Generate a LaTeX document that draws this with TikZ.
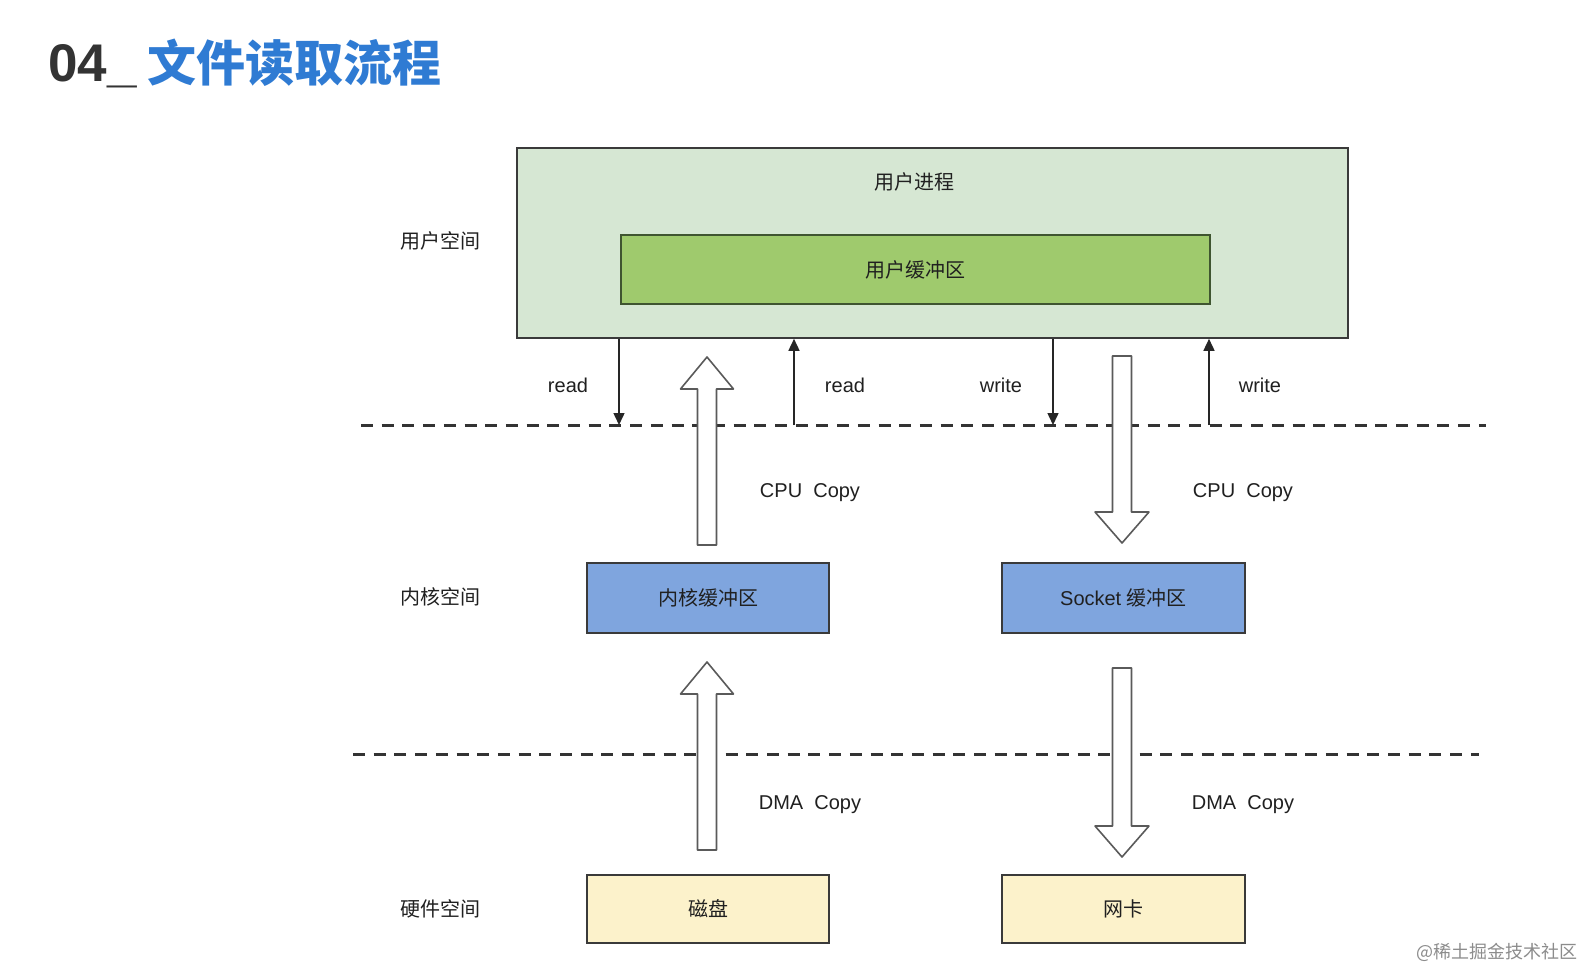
\documentclass[tikz,border=0pt]{standalone}
\usepackage{fontspec}
\setmainfont{Liberation Sans}
\newfontfamily\cjk{Noto Sans CJK SC}
\usetikzlibrary{arrows.meta}
\definecolor{txt}{HTML}{202020}
\definecolor{ttlblue}{HTML}{2F7BD3}
\definecolor{ttlgray}{HTML}{333333}
\definecolor{procfill}{HTML}{D6E7D3}
\definecolor{buffill}{HTML}{9FCA6D}
\definecolor{bufline}{HTML}{3F5530}
\definecolor{kernfill}{HTML}{7FA5DE}
\definecolor{hwfill}{HTML}{FCF2CB}
\definecolor{boxline}{HTML}{3A3A3A}
\definecolor{blkline}{HTML}{5A5A5A}
\newcommand{\mylbl}{\fontsize{20pt}{24pt}\selectfont}
\newcommand{\blkup}[3]{\draw[blk] (#1-9.5,#2) -- (#1-9.5,#3+32) -- (#1-26.5,#3+32) -- (#1,#3) -- (#1+26.5,#3+32) -- (#1+9.5,#3+32) -- (#1+9.5,#2) -- cycle;}
\newcommand{\blkdown}[3]{\draw[blk] (#1-9.5,#2) -- (#1-9.5,#3-31) -- (#1-27,#3-31) -- (#1,#3) -- (#1+27,#3-31) -- (#1+9.5,#3-31) -- (#1+9.5,#2) -- cycle;}
\begin{document}
\begin{tikzpicture}[x=1pt,y=-1pt,
  box/.style={draw=boxline, line width=1.6pt, inner sep=0pt, text=txt, font=\mylbl},
  lbl/.style={inner sep=0pt, text=txt, font=\mylbl},
  tarr/.style={draw=black!85, line width=1.5pt, -{Triangle[length=12pt,width=11pt]}},
  dline/.style={draw=ttlgray, line width=3pt, dash pattern=on 12pt off 8.7pt},
  blk/.style={draw=blkline, fill=white, line width=1.6pt, line join=round}]
\useasboundingbox (0,0) rectangle (1583,968);
\fill[white] (0,0) rectangle (1583,968);

% title
\node[anchor=base west, inner sep=0pt, text=ttlgray, font=\fontsize{53pt}{60pt}\selectfont\bfseries] (t1) at (48,82) {04\_};
\node[anchor=base west, inner sep=0pt, text=ttlblue, font=\fontsize{49pt}{56pt}\selectfont\cjk\bfseries] (t2) at ([xshift=10pt]t1.base east) {文件读取流程};

% dashed separators
\coordinate (dl1a) at (361,425);
\coordinate (dl1b) at (1486,425);
\coordinate (dl2a) at (353,754);
\coordinate (dl2b) at (1479,754);
\draw[dline] (dl1a) -- (dl1b);
\draw[dline] (dl2a) -- (dl2b);

% space labels
\node[lbl] (us) at (440,241) {\cjk 用户空间};
\node[lbl] (ks) at (440,597) {\cjk 内核空间};
\node[lbl] (hs) at (440,909) {\cjk 硬件空间};

% boxes
\node[box, fill=procfill, minimum width=831pt, minimum height=190pt] (proc) at (932.5,243) {};
\node[lbl] (proct) at (914,182) {\cjk 用户进程};
\node[box, draw=bufline, fill=buffill, minimum width=589pt, minimum height=69pt] (ubuf) at (915.5,269.5) {\cjk 用户缓冲区};
\node[box, fill=kernfill, minimum width=242pt, minimum height=70pt] (kbuf) at (708,598) {\cjk 内核缓冲区};
\node[box, fill=kernfill, minimum width=243pt, minimum height=70pt] (sbuf) at (1123.5,598) {Socket {\cjk 缓冲区}};
\node[box, fill=hwfill, minimum width=242pt, minimum height=68pt] (disk) at (708,909) {\cjk 磁盘};
\node[box, fill=hwfill, minimum width=243pt, minimum height=68pt] (nic) at (1123.5,909) {\cjk 网卡};

% thin read/write arrows
\coordinate (r1) at (619,425);
\coordinate (r2) at (794,425);
\coordinate (w1) at (1053,425);
\coordinate (w2) at (1209,425);
\draw[tarr] (proc.south -| r1) -- (r1);
\draw[tarr] (r2) -- (proc.south -| r2);
\draw[tarr] (proc.south -| w1) -- (w1);
\draw[tarr] (w2) -- (proc.south -| w2);
\node[lbl] (lr1) at (568,385) {read};
\node[lbl] (lr2) at (845,385) {read};
\node[lbl] (lw1) at (1001,385) {write};
\node[lbl] (lw2) at (1260,385) {write};

% block arrows
\blkup{707}{545}{357}
\blkdown{1122}{356}{543}
\blkup{707}{850}{662}
\blkdown{1122}{668}{857}

\node[lbl] (c1) at (810,493) {CPU\ \ Copy};
\node[lbl] (c2) at (1243,493) {CPU\ \ Copy};
\node[lbl] (d1) at (810,805) {DMA\ \ Copy};
\node[lbl] (d2) at (1243,805) {DMA\ \ Copy};

% source mark
\node[inner sep=0pt, text=black!45, font=\fontsize{18pt}{20pt}\selectfont\cjk] (src) at (1497,952) {@稀土掘金技术社区};
\end{tikzpicture}
\end{document}
